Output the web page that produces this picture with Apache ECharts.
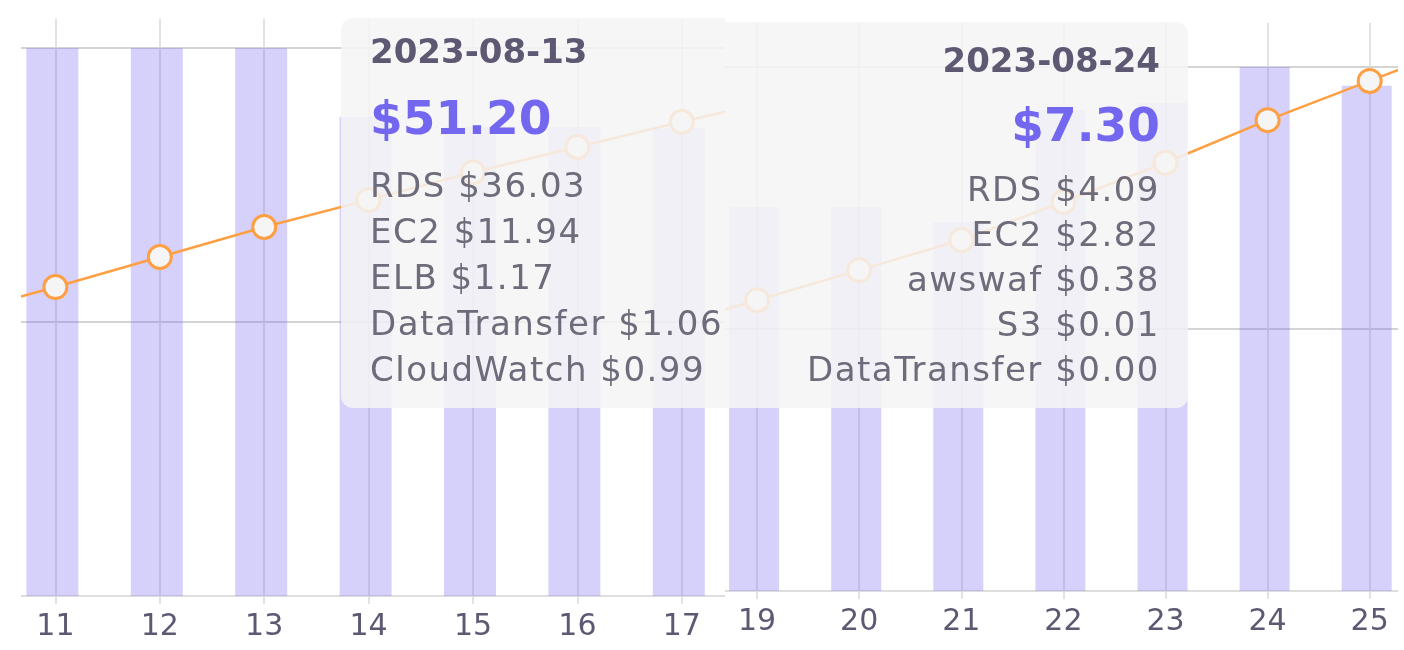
<!DOCTYPE html>
<html>
<head>
<meta charset="utf-8">
<script src="https://cdn.jsdelivr.net/npm/echarts@6/dist/echarts.min.js"></script>
<style>
html, body { margin: 0; padding: 0; background: #fff; }
.wrap { position: absolute; top: 0; height: 650px; overflow: hidden; }
.chart { position: absolute; top: 0; height: 650px; width: 900px; }
</style>
</head>
<body>
<div class="wrap" style="left:21px;width:704px"><div id="chartLeft" class="chart" style="left:-70.4px"></div></div>
<div class="wrap" style="left:725px;width:673px"><div id="chartRight" class="chart" style="left:-69.6px"></div></div>
<script>
// left piece: 11 ~ 17 aug
var leftDays = ['2023-08-10', '2023-08-11', '2023-08-12', '2023-08-13', '2023-08-14',
                '2023-08-15', '2023-08-16', '2023-08-17', '2023-08-18'];
var leftDaily = [null, 51.2, 51.2, 51.2, 44.75, 43.82, 43.82, 43.73, null];
var leftRunning = [466, 514, 564, 614, 659, 705, 747, 789, 829];
var leftTipServices = ['RDS', 'EC2', 'ELB', 'DataTransfer', 'CloudWatch'];
var leftTipCosts = [36.03, 11.94, 1.17, 1.06, 0.99];

// right piece: 19 ~ 25 aug
var rightDays = ['2023-08-18', '2023-08-19', '2023-08-20', '2023-08-21', '2023-08-22',
                 '2023-08-23', '2023-08-24', '2023-08-25', '2023-08-26'];
var rightDaily = [null, 5.35, 5.35, 5.14, 6.70, 6.80, 7.30, 7.04, null];
var rightRunning = [46.0, 51.2, 56.5, 61.8, 68.5, 75.4, 82.9, 89.8, 96.7];
var rightTipServices = ['RDS', 'EC2', 'awswaf', 'S3', 'DataTransfer'];
var rightTipCosts = [4.09, 2.82, 0.38, 0.01, 0.00];

var fontFamily = "'DejaVu Sans', sans-serif";
var titleColor = '#5e5873';
var textColor = '#6e6b7b';
var primary = '#7367f0';
var orange = '#ff9f43';
var gridColor = '#d9d9d9';

function tipHtml(day, total, names, costs, align, topLine) {
    var s = '<div style="text-align:' + align + ';font-family:' + fontFamily + ';">';
    s += '<div style="font-size:34px;font-weight:700;line-height:46px;color:' + titleColor + '">' + day + '</div>';
    s += '<div style="font-size:47px;font-weight:700;line-height:' + topLine + 'px;color:' + primary + '">$' + total.toFixed(2) + '</div>';
    names.forEach(function (n, i) {
        s += '<div style="font-size:34px;letter-spacing:1.5px;line-height:' + (align === 'left' ? 46 : 45) + 'px;color:' + textColor + '">' + n + ' $' + costs[i].toFixed(2) + '</div>';
    });
    return s + '</div>';
}

function makeOption(p) {
    return {
        animation: false,
        grid: { left: 0, top: p.top, width: p.width, height: p.height, containLabel: false, outerBoundsMode: 'none' },
        tooltip: {
            trigger: 'item',
            triggerOn: 'none',
            alwaysShowContent: true,
            transitionDuration: 0,
            backgroundColor: 'rgba(245,245,245,0.86)',
            borderWidth: 0,
            padding: p.tipPadding,
            extraCssText: 'box-shadow:none;border-radius:12px;' + p.tipCss,
            position: function () { return p.tipPos; },
            formatter: function (params) {
                return tipHtml(p.days[params.dataIndex], p.daily[params.dataIndex],
                    p.tipNames, p.tipCosts, p.align, p.topLine);
            }
        },
        xAxis: {
            type: 'category',
            boundaryGap: false,
            data: p.days,
            axisLine: { lineStyle: { color: '#dedede', width: 2 } },
            axisTick: { show: true, length: 8, lineStyle: { color: gridColor, width: 1.5 } },
            axisLabel: {
                interval: 0,
                margin: 16,
                fontSize: 30,
                color: titleColor,
                fontFamily: fontFamily,
                formatter: function (v) { return v.slice(8); }
            },
            splitLine: { show: true, lineStyle: { color: gridColor, width: 1.5 } }
        },
        yAxis: [{
            type: 'value',
            min: 0,
            max: p.barMax,
            interval: p.barStep,
            axisLine: { show: false },
            axisTick: { show: false },
            axisLabel: { show: false },
            splitLine: { showMaxLine: false, lineStyle: { color: '#d4d4d4', width: 2 } }
        }, {
            type: 'value',
            min: 0,
            max: p.lineMax,
            show: false,
            splitLine: { show: false }
        }],
        series: [{
            name: 'daily',
            type: 'bar',
            barWidth: p.barWidth,
            barGap: '0%',
            data: p.daily,
            itemStyle: { color: 'rgba(115,103,240,0.3)' },
            emphasis: { disabled: true }
        }, {
            // empty slot series, the real dashboard keeps a second column here
            name: 'credits',
            type: 'bar',
            barWidth: 6,
            data: [],
            emphasis: { disabled: true }
        }, {
            name: 'running',
            type: 'line',
            yAxisIndex: 1,
            data: p.running,
            symbol: 'circle',
            symbolSize: 23,
            showAllSymbol: true,
            lineStyle: { color: orange, width: 2.5 },
            itemStyle: { color: '#f5f5f5', borderColor: orange, borderWidth: 3 },
            emphasis: { disabled: true },
            z: 3
        }]
    };
}

var leftChart = echarts.init(document.getElementById('chartLeft'));
leftChart.setOption(makeOption({
    top: 19, width: 835.2, height: 577,
    days: leftDays, daily: leftDaily, running: leftRunning,
    barMax: 25.6 * 577 / 274, barStep: 25.6, lineMax: 960, barWidth: 52,
    tipNames: leftTipServices, tipCosts: leftTipCosts,
    align: 'left', topLine: 88,
    tipPadding: [10, 28, 16, 29], tipCss: '', tipPos: [390.4, 18]
}));
leftChart.dispatchAction({ type: 'showTip', seriesIndex: 0, dataIndex: 3 });

var rightChart = echarts.init(document.getElementById('chartRight'));
rightChart.setOption(makeOption({
    top: 23, width: 816.8, height: 568,
    days: rightDays, daily: rightDaily, running: rightRunning,
    barMax: 3.65 * 568 / 262, barStep: 3.65, lineMax: 100, barWidth: 50,
    tipNames: rightTipServices, tipCosts: rightTipCosts,
    align: 'right', topLine: 84,
    tipPadding: [15, 28, 16, 28], tipCss: 'width:432px;', tipPos: [44.6, 22]
}));
rightChart.dispatchAction({ type: 'showTip', seriesIndex: 0, dataIndex: 6 });
</script>
</body>
</html>
